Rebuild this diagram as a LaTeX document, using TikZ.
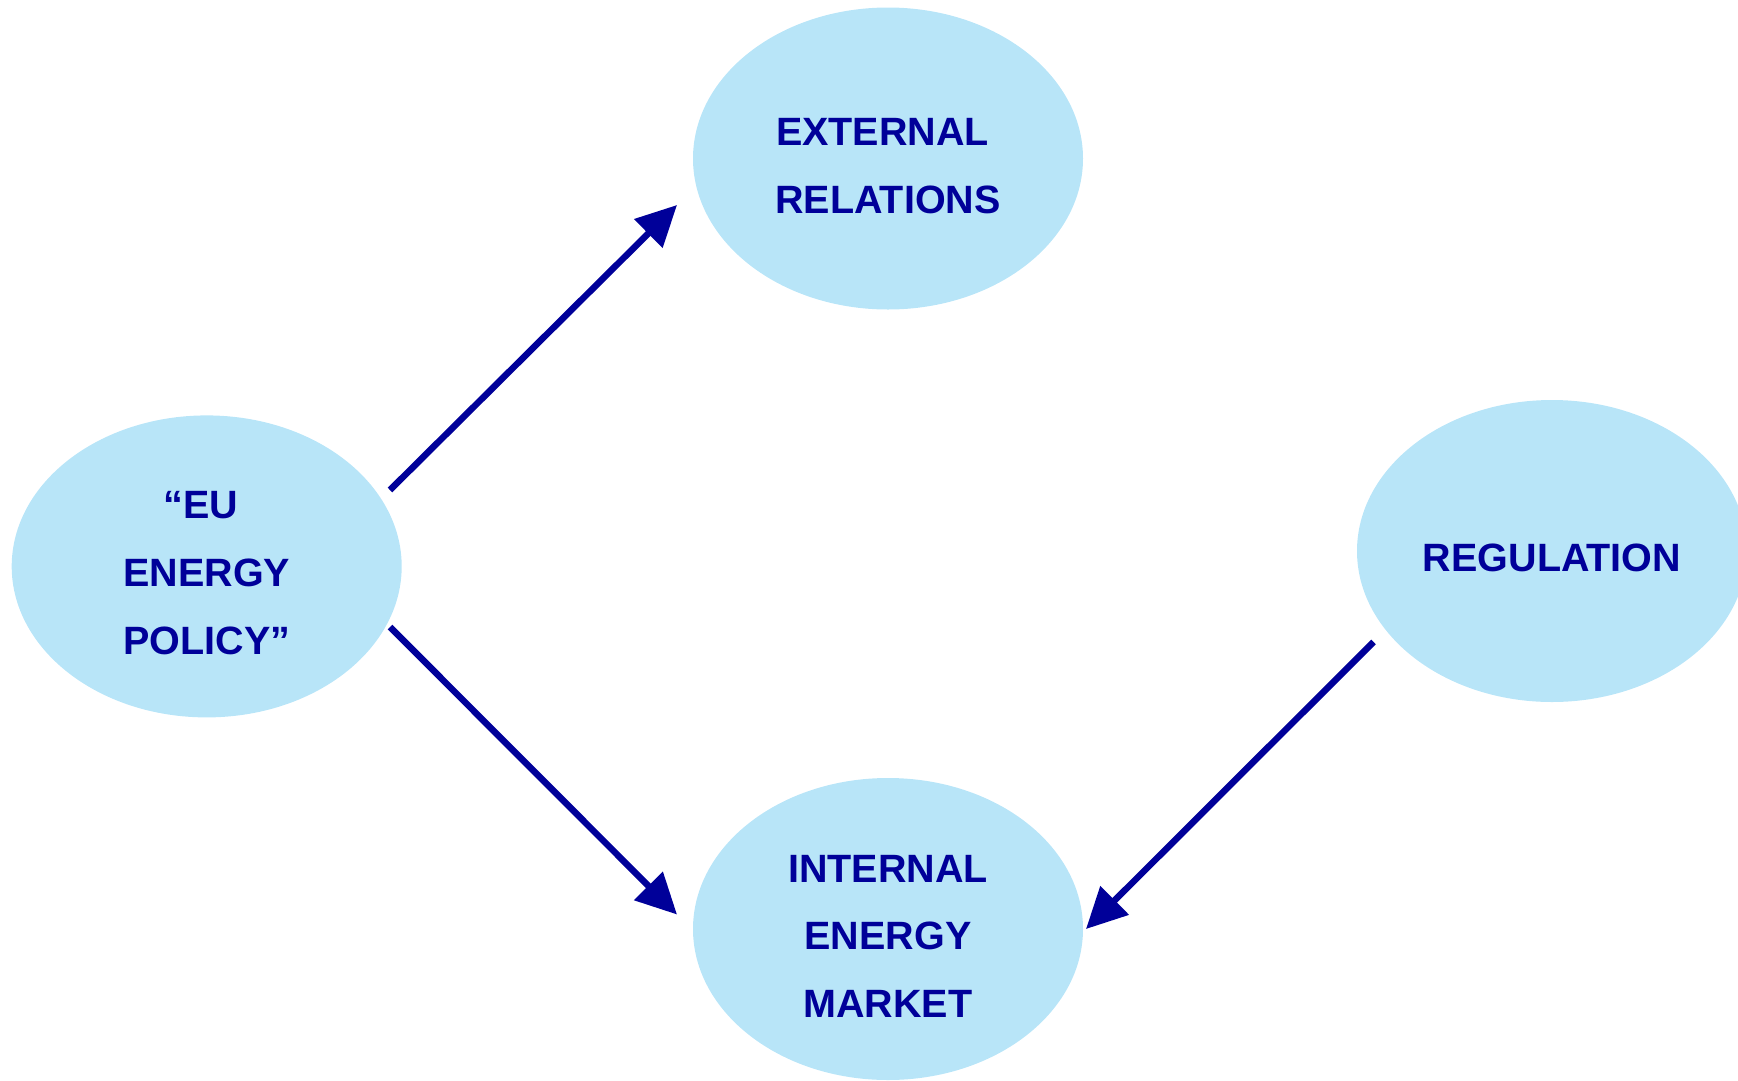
\documentclass[tikz,border=0pt]{standalone}
\usepackage{fontspec}
\setmainfont{Liberation Sans}
\usetikzlibrary{arrows.meta,shapes.geometric}
\definecolor{blobfill}{RGB}{184,229,248}
\definecolor{navy}{RGB}{0,0,153}
\begin{document}
\begin{tikzpicture}[x=1pt,y=-1pt,
  blob/.style={ellipse,fill=blobfill,draw=none,minimum width=390pt,minimum height=302pt,inner sep=0pt},
  lbl/.style={align=center,text=navy,font=\fontsize{39.5}{67.6}\selectfont\bfseries,inner sep=0pt},
  link/.style={draw=navy,line width=6.5pt,-{Triangle[length=40.5pt,width=39pt]}}]
\useasboundingbox (0,0) rectangle (1738,1080);
\node[blob] (er) at (888,158.5) {};
\node[blob] (eu) at (206.7,566.4) {};
\node[blob] (reg) at (1552,551) {};
\node[blob] (iem) at (888,929) {};
\node[lbl] (ert) at (888,166) {EXTERNAL\kern11pt\\RELATIONS};
\node[lbl] (eut) at (206.7,573) {“EU\kern11pt\\ENERGY\\POLICY”};
\node[lbl] (regt) at (1552,558) {REGULATION};
\node[lbl] (iemt) at (888,936) {INTERNAL\\ENERGY\\MARKET};
\coordinate (a1s) at (390,490);
\coordinate (a1e) at (677,205);
\coordinate (a2s) at (390,627);
\coordinate (a2e) at (677,914.5);
\coordinate (a3s) at (1373.5,642);
\coordinate (a3e) at (1086,929);
\draw[link] (a1s) -- (a1e);
\draw[link] (a2s) -- (a2e);
\draw[link] (a3s) -- (a3e);
\end{tikzpicture}
\end{document}
